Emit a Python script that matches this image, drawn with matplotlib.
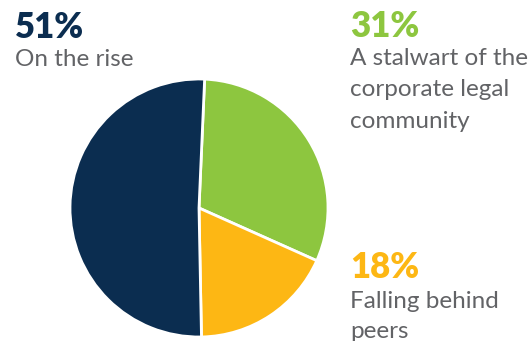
import matplotlib.pyplot as plt

plt.rcParams['font.family'] = ['Lato', 'DejaVu Sans']

# share of respondents, drawn clockwise from the top
labels = ['A stalwart of the\ncorporate legal\ncommunity', 'Falling behind\npeers', 'On the rise']
values = [31, 18, 51]
colors = ['#8dc63f', '#fdb714', '#0b2d50']
gray = '#626366'

W, H = 530, 341
fig = plt.figure(figsize=(W / 100, H / 100), dpi=100)

# pie centred at about (199, 208) px, radius 129 px
ax = fig.add_axes([70 / W, (H - 337) / H, 258 / W, 258 / H])
ax.pie(values, colors=colors, startangle=87.5, counterclock=False, radius=1,
       wedgeprops=dict(edgecolor='white', linewidth=2))
ax.set_xlim(-1, 1)
ax.set_ylim(-1, 1)
ax.set_aspect('equal')
ax.axis('off')

def px(x, y):
    return x / W, 1 - y / H

# (left x, baseline of percent, baseline of first label line, line step)
spots = [(350, 37, 65, 31.5), (350, 278, 308, 29.5), (15, 38, 66, 31)]
for (x, yp, yl, step), lab, v, c in zip(spots, labels, values, colors):
    fig.text(*px(x, yp), f'{v}%', color=c, fontsize=25, fontweight='heavy',
             va='baseline', ha='left')
    for i, line in enumerate(lab.split('\n')):
        fig.text(*px(x, yl + i * step), line, color=gray, fontsize=17.5,
                 va='baseline', ha='left')

fig.savefig('out.png', dpi=100)
